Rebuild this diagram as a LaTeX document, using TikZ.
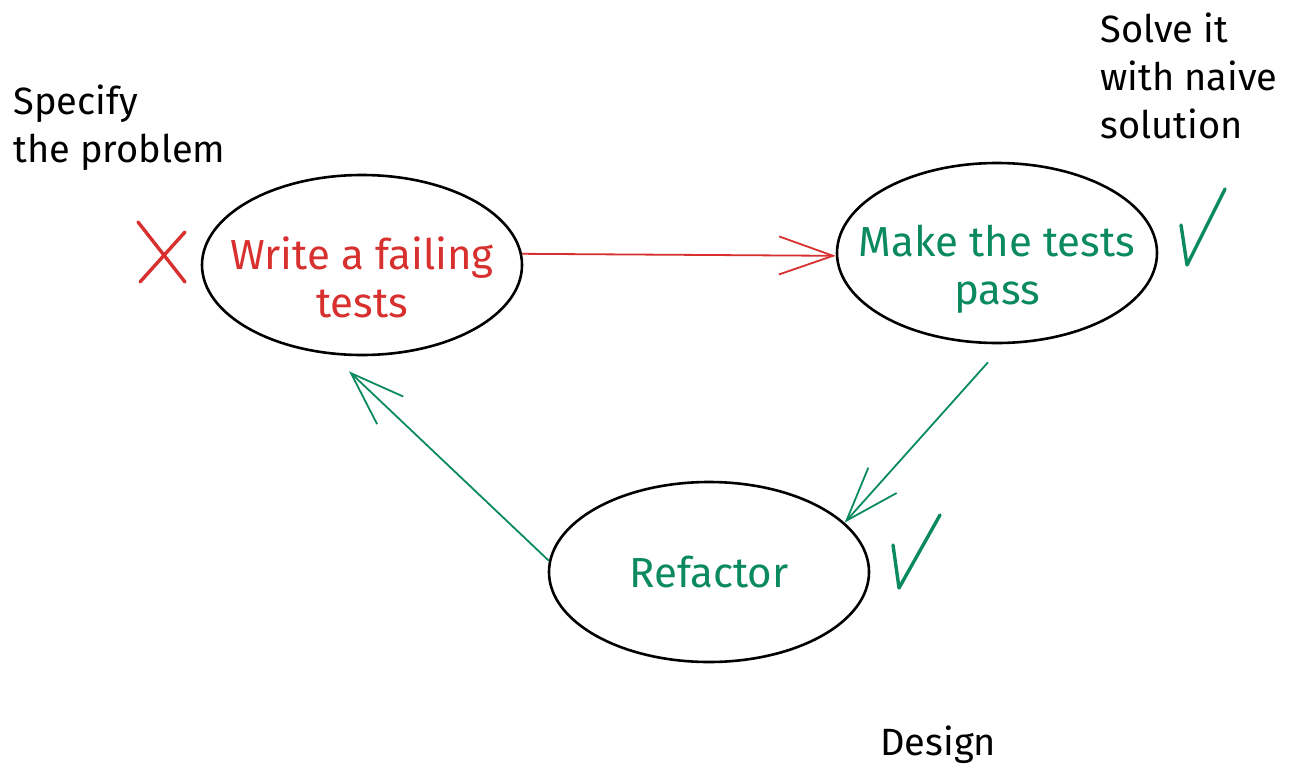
\documentclass[tikz,border=0pt]{standalone}
\usepackage{fontspec}
\setmainfont{Fira Sans}
\usetikzlibrary{shapes.geometric,arrows.meta,calc}
\definecolor{sred}{HTML}{D7302E}
\definecolor{sgreen}{HTML}{0B8A5E}
\begin{document}
\begin{tikzpicture}[x=0.5pt,y=-0.5pt,
  state/.style={draw=black, line width=1.3pt, ellipse, minimum width=160pt, minimum height=90pt, inner sep=0pt},
  stext/.style={align=center, font=\fontsize{21}{24}\selectfont, inner sep=0pt},
  note/.style={align=left, font=\fontsize{19}{24}\selectfont, inner sep=0pt, text=black},
  flow/.style={line width=0.9pt, -{Straight Barb[length=27pt,width=19pt,line width=0.9pt]}},
  checkmk/.style={line width=1.7pt, line join=round, line cap=round}
]
\path[use as bounding box, fill=white] (0,0) rectangle (1293,771);

\node[state, label={[stext, text=sred, yshift=-6pt]center:{Write a failing\\tests}}] (w) at (362,265) {};
\node[state, label={[stext, text=sgreen, yshift=-8pt]center:{Make the tests\\pass}}] (m) at (997,253) {};
\node[state, label={[stext, text=sgreen]center:{Refactor}}] (r) at (709,572) {};

\draw[flow, sred] (w.4) -- (m.181);
\draw[flow, sgreen] ($(m.south)+(-9,18)$) -- (r.20);
\draw[flow, sgreen] (r.176) -- ($(w.south)+(-13,15)$);

\draw[sred, checkmk] (138,222) -- (185,282) (140,282) -- (185,232);
\draw[sgreen, checkmk] (1181,225) -- (1187,265) -- (1225,189);
\draw[sgreen, checkmk] (893,545) -- (899,588) -- (940,515);

\node[note, anchor=west] (spec) at (13,128) {Specify\\the problem};
\node[note, anchor=west] (solve) at (1100,76) {Solve it\\with naive\\solution};
\node[note, anchor=west] (design) at (880,745) {Design};
\end{tikzpicture}
\end{document}
